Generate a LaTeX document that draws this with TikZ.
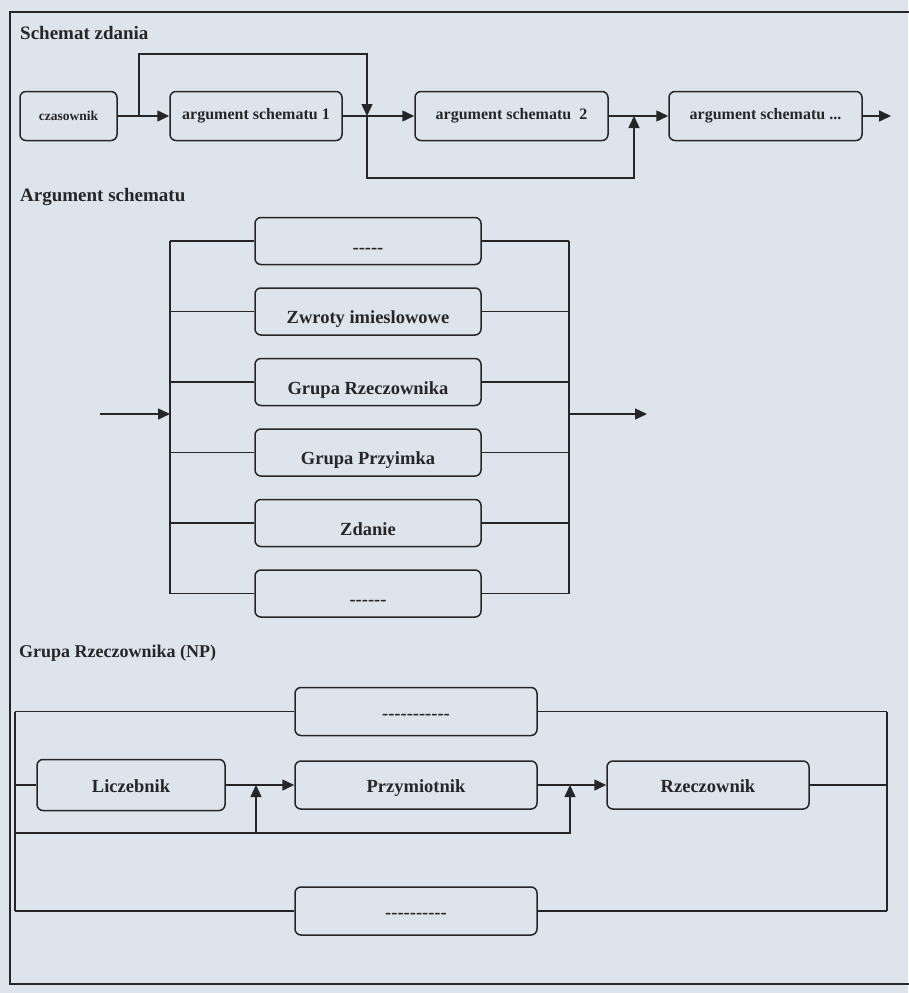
\documentclass[tikz,border=0pt]{standalone}
\usepackage{fontspec}
\setmainfont{Liberation Serif}
\usetikzlibrary{arrows.meta, positioning}

\definecolor{paper}{RGB}{222,228,236}
\definecolor{ink}{RGB}{38,38,40}

\begin{document}
\begin{tikzpicture}[
    x=1pt, y=-1pt,
    % Section heading style
    sectitle/.style={
        anchor=base west,
        inner sep=0pt,
        text=ink,
        font=\fontsize{19}{22}\selectfont\bfseries
    },
    % Sentence schema box style
    argbox/.style={
        rectangle,
        rounded corners=6pt,
        draw=ink,
        line width=1.5pt,
        minimum height=49pt,
        inner sep=2pt,
        text=ink,
        font=\fontsize{16}{19}\selectfont\bfseries
    },
    % Argument alternative style
    altbox/.style={
        argbox,
        minimum width=226pt,
        minimum height=47pt,
        text height=24pt,
        text depth=0pt,
        font=\fontsize{18.5}{21}\selectfont\bfseries
    },
    % Noun phrase part style
    npbox/.style={
        argbox,
        minimum height=48pt,
        text height=15pt,
        text depth=0pt,
        font=\fontsize{18.5}{21}\selectfont\bfseries
    },
    % Connector styles
    wire/.style={
        draw=ink,
        line width=1.5pt
    },
    arrow/.style={
        wire,
        -{Triangle[length=12pt, width=11pt]}
    }
]

% === Page ===
\fill[paper] (0,0) rectangle (908,993);
\useasboundingbox (0,0) rectangle (908,993);
\draw[wire] (10,12) rectangle (940,984);

% === Schemat zdania ===
\node[sectitle] (title1) at (20,39) {Schemat zdania};
\node[argbox, minimum width=97pt, font=\fontsize{13.5}{16}\selectfont\bfseries] (verb) at (68.5,116) {czasownik};
\node[argbox, minimum width=172pt] (arg1) at (256,116) {argument schematu 1};
\node[argbox, minimum width=193pt] (arg2) at (511.5,116) {argument schematu\ \ 2};
\node[argbox, minimum width=193pt] (argn) at (765.5,116) {argument schematu ...};

\coordinate (split1) at (139,116);
\coordinate (skipA) at (367,54);
\coordinate (join1) at (367,116);
\coordinate (skipB) at (367,178);
\coordinate (join2) at (634,116);
\coordinate (out1) at (891,116);

\draw[arrow] (verb) -- (arg1);
\draw[arrow] (arg1) -- (arg2);
\draw[arrow] (arg2) -- (argn);
\draw[arrow] (argn) -- (out1);
\draw[arrow] (split1) |- (skipA) -- (join1);
\draw[arrow] (join1) -- (skipB) -| (join2);

% === Argument schematu ===
\node[sectitle] (title2) at (20,201) {Argument schematu};
\node[altbox] (alt1) at (368,241) {-{}-{}-{}-{}-};
\node[altbox] (alt2) at (368,311.5) {Zwroty imieslowowe};
\node[altbox] (alt3) at (368,382) {Grupa Rzeczownika};
\node[altbox] (alt4) at (368,452.5) {Grupa Przyimka};
\node[altbox] (alt5) at (368,523) {Zdanie};
\node[altbox] (alt6) at (368,593.5) {-{}-{}-{}-{}-{}-};

\coordinate (inS) at (100,414);
\coordinate (inL) at (170,414);
\coordinate (outR) at (569,414);
\coordinate (outE) at (647,414);

\draw[wire] (alt1.west -| inL) -- (alt6.west -| inL);
\draw[wire] (alt1.east -| outR) -- (alt6.east -| outR);
\draw[wire] (alt1.west -| inL) -- (alt1.west);
\draw[wire] (alt2.west -| inL) -- (alt2.west);
\draw[wire] (alt3.west -| inL) -- (alt3.west);
\draw[wire] (alt4.west -| inL) -- (alt4.west);
\draw[wire] (alt5.west -| inL) -- (alt5.west);
\draw[wire] (alt6.west -| inL) -- (alt6.west);
\draw[wire] (alt1.east) -- (alt1.east -| outR);
\draw[wire] (alt2.east) -- (alt2.east -| outR);
\draw[wire] (alt3.east) -- (alt3.east -| outR);
\draw[wire] (alt4.east) -- (alt4.east -| outR);
\draw[wire] (alt5.east) -- (alt5.east -| outR);
\draw[wire] (alt6.east) -- (alt6.east -| outR);
\draw[arrow] (inS) -- (inL);
\draw[arrow] (outR) -- (outE);

% === Grupa Rzeczownika (NP) ===
\node[sectitle, font=\fontsize{18}{21}\selectfont\bfseries] (title3) at (19,657) {Grupa Rzeczownika (NP)};
\node[npbox, minimum width=242pt] (npTop) at (416,711.5) {-{}-{}-{}-{}-{}-{}-{}-{}-{}-{}-};
\node[npbox, minimum width=188pt, minimum height=51pt] (num) at (131,785) {Liczebnik};
\node[npbox, minimum width=242pt] (adj) at (416,785) {Przymiotnik};
\node[npbox, minimum width=202pt] (noun) at (708,785) {Rzeczownik};
\node[npbox, minimum width=242pt] (npBot) at (416,911) {-{}-{}-{}-{}-{}-{}-{}-{}-{}-};

\coordinate (npL) at (15,833);
\coordinate (npR) at (887,785);
\coordinate (join3) at (256,785);
\coordinate (join4) at (570,785);
\coordinate (skipC) at (570,833);

\draw[wire] (npTop.west -| npL) -- (npBot.west -| npL);
\draw[wire] (npTop.east -| npR) -- (npBot.east -| npR);
\draw[wire] (npTop.west -| npL) -- (npTop.west);
\draw[wire] (num.west -| npL) -- (num.west);
\draw[wire] (npBot.west -| npL) -- (npBot.west);
\draw[wire] (npTop.east) -- (npTop.east -| npR);
\draw[wire] (noun.east) -- (npR);
\draw[wire] (npBot.east) -- (npBot.east -| npR);
\draw[arrow] (num) -- (adj);
\draw[arrow] (adj) -- (noun);
\draw[arrow] (npL) -- (skipC) -- (join4);
\draw[arrow] (join3 |- npL) -- (join3);

\end{tikzpicture}
\end{document}
